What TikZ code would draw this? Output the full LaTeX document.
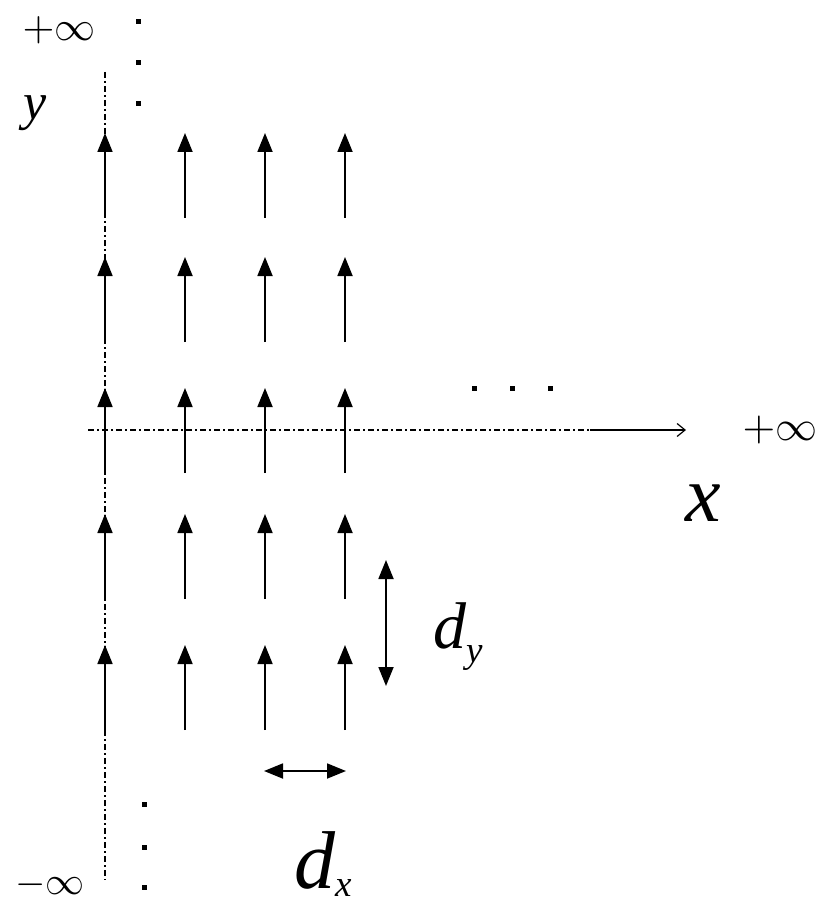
\documentclass[tikz,border=0pt]{standalone}
\usepackage{graphicx}
\usepackage{fontspec}
\setmainfont{Liberation Serif}
\usetikzlibrary{arrows.meta}
\begin{document}
\begin{tikzpicture}[x=1pt,y=-1pt,
  vec/.style={line width=1.8pt,-{Triangle[length=19pt,width=15pt]}},
  dbl/.style={line width=1.8pt,{Triangle[length=19pt,width=15pt]}-{Triangle[length=19pt,width=15pt]}},
  axisline/.style={line width=1.2pt,dash pattern=on 6pt off 3pt on 2pt off 3pt},
  dotmark/.style={fill=black,minimum size=5pt,inner sep=0pt,draw=none},
  lbl/.style={inner sep=0pt}]
\useasboundingbox (0,0) rectangle (823,909);
% axes
\coordinate (yt) at (105,72);
\coordinate (yb) at (105,880);
\draw[axisline] (yt) -- (yb);
\coordinate (xl) at (88,430);
\coordinate (xm) at (590,430);
\coordinate (xr) at (686,430);
\draw[axisline] (xl) -- (xm);
\draw[line width=1.2pt,-{Straight Barb[length=8pt,width=13pt]}] (xm) -- (xr);
% vector field
\foreach \cx [count=\i] in {105,185,265,345}{
  \foreach \ty [count=\j] in {133,257,388,514,645}{
    \coordinate (b\i\j) at (\cx,\ty+85);
    \coordinate (t\i\j) at (\cx,\ty);
    \draw[vec] (b\i\j) -- (t\i\j);
  }
}
% spacing arrows
\coordinate (dya) at (386,560);
\coordinate (dyb) at (386,686);
\draw[dbl] (dya) -- (dyb);
\coordinate (dxa) at (264,771);
\coordinate (dxb) at (346,771);
\draw[dbl] (dxa) -- (dxb);
% dots
\foreach \yy [count=\k] in {22,63,104}{\node[dotmark] (tv\k) at (138,\yy) {};}
\foreach \yy [count=\k] in {804,847,887}{\node[dotmark] (bv\k) at (144,\yy) {};}
\foreach \xx [count=\k] in {474,512,550}{\node[dotmark] (hd\k) at (\xx,388) {};}
% labels
\node[lbl] (pinfTop) at (59,30) {\scalebox{4.1}{$+\infty$}};
\node[lbl] (pinfRight) at (780,430) {\scalebox{4.2}{$+\infty$}};
\node[lbl] (ninf) at (50,885) {\scalebox{3.9}{$-\infty$}};
\node[lbl] (ylab) at (35,113) {\fontsize{52}{52}\selectfont\itshape y};
\node[lbl] (xlab) at (703,503) {\fontsize{80}{80}\selectfont\itshape x};
\node[lbl,anchor=base west] (dylab) at (433,648) {\fontsize{66}{66}\selectfont\itshape d\raisebox{-0.22em}{\fontsize{37}{37}\selectfont y}};
\node[lbl,anchor=base west] (dxlab) at (294,888) {\fontsize{82}{82}\selectfont\itshape d\raisebox{-0.1em}{\fontsize{37}{37}\selectfont x}};
\end{tikzpicture}
\end{document}
